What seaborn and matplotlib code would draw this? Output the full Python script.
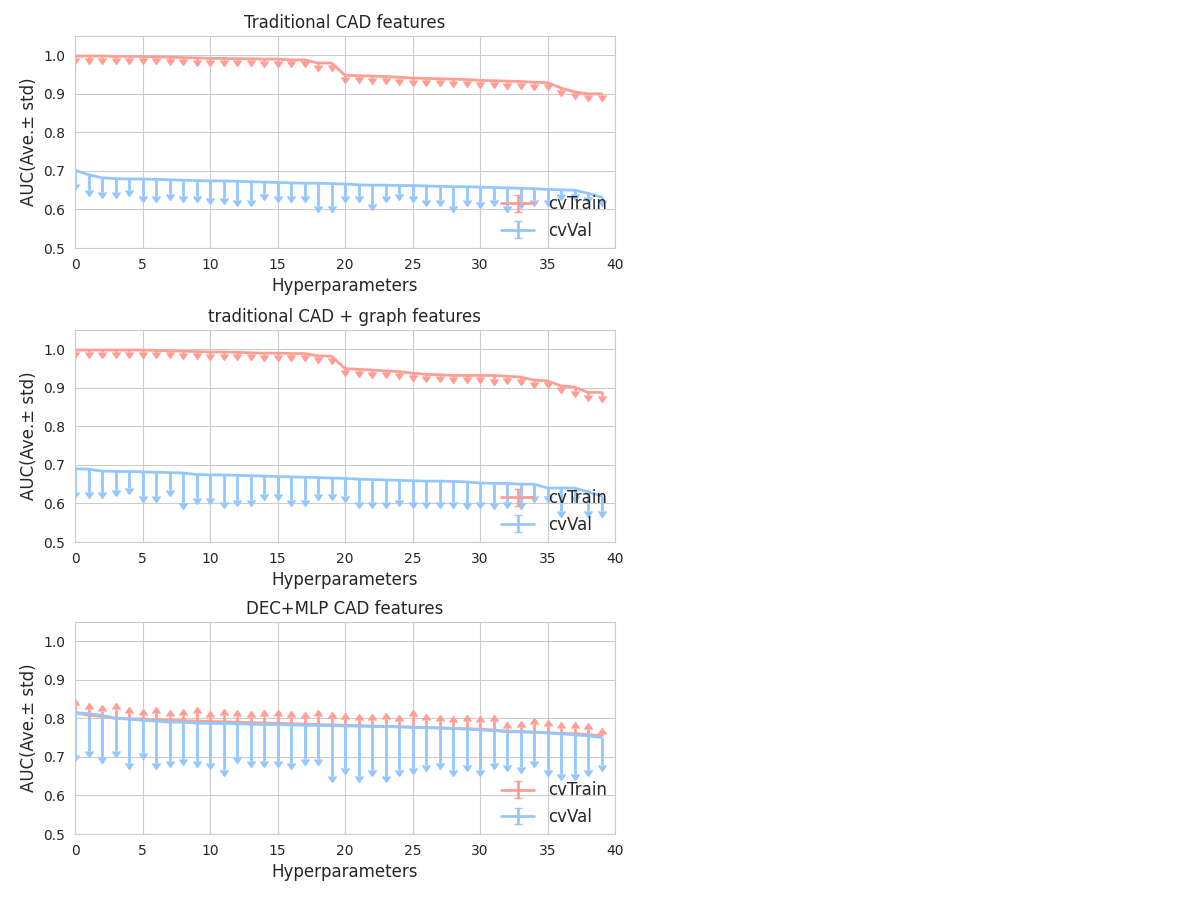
import numpy as np
import matplotlib
matplotlib.use("Agg")
import matplotlib.pyplot as plt
import seaborn as sns

sns.set_style("whitegrid")
plt.rcParams['font.family'] = ['DejaVu Sans']

x = list(range(40))
titles = ["Traditional CAD features", "traditional CAD + graph features", "DEC+MLP CAD features"]

train1 = [0.998,0.998,0.998,0.997,0.997,0.997,0.996,0.995,0.994,0.993,0.992,0.992,0.991,0.991,0.990,0.990,0.988,0.988,0.980,0.980,
          0.948,0.947,0.946,0.945,0.943,0.941,0.940,0.939,0.938,0.937,0.935,0.934,0.933,0.932,0.930,0.929,0.915,0.905,0.900,0.900]
train1_std = [0.004]*40
val1 = [0.702,0.690,0.682,0.680,0.679,0.679,0.678,0.677,0.676,0.675,0.674,0.674,0.673,0.672,0.671,0.670,0.669,0.668,0.668,0.667,
        0.666,0.664,0.663,0.663,0.662,0.662,0.661,0.660,0.659,0.659,0.658,0.657,0.656,0.655,0.654,0.652,0.651,0.650,0.642,0.632]
val1_lo = [0.665,0.650,0.645,0.645,0.650,0.635,0.635,0.640,0.635,0.635,0.630,0.630,0.625,0.625,0.640,0.635,0.635,0.635,0.610,0.610,
           0.635,0.635,0.615,0.635,0.640,0.635,0.625,0.625,0.610,0.625,0.620,0.625,0.610,0.620,0.625,0.625,0.640,0.640,0.632,0.625]

train2 = [0.998,0.998,0.998,0.998,0.998,0.998,0.997,0.996,0.995,0.994,0.993,0.993,0.992,0.991,0.990,0.990,0.989,0.989,0.983,0.982,
          0.950,0.948,0.946,0.944,0.942,0.938,0.935,0.934,0.932,0.932,0.932,0.932,0.930,0.928,0.920,0.918,0.905,0.902,0.888,0.888]
train2_std = [0.004,0.004,0.004,0.004,0.004,0.004,0.004,0.004,0.004,0.004,0.004,0.004,0.004,0.004,0.004,0.004,0.004,0.004,0.004,0.004,
              0.004,0.004,0.004,0.004,0.004,0.004,0.004,0.004,0.004,0.004,0.004,0.010,0.004,0.004,0.004,0.004,0.004,0.010,0.006,0.008]
val2 = [0.690,0.689,0.684,0.683,0.683,0.682,0.681,0.680,0.679,0.675,0.674,0.674,0.673,0.672,0.671,0.670,0.669,0.668,0.667,0.666,
        0.665,0.663,0.662,0.661,0.660,0.659,0.658,0.658,0.657,0.656,0.653,0.652,0.652,0.650,0.650,0.640,0.640,0.640,0.630,0.620]
val2_lo = [0.630,0.630,0.630,0.635,0.640,0.620,0.620,0.635,0.600,0.615,0.615,0.605,0.610,0.610,0.625,0.625,0.610,0.610,0.625,0.625,
           0.620,0.605,0.605,0.605,0.610,0.605,0.605,0.605,0.605,0.600,0.605,0.600,0.605,0.600,0.620,0.620,0.580,0.620,0.580,0.580]

train3 = [0.815,0.808,0.805,0.800,0.799,0.798,0.796,0.795,0.794,0.793,0.792,0.791,0.790,0.789,0.788,0.787,0.786,0.785,0.784,0.783,
          0.782,0.781,0.780,0.779,0.778,0.777,0.776,0.775,0.774,0.773,0.772,0.770,0.765,0.765,0.764,0.763,0.761,0.760,0.758,0.755]
train3_hi = [0.835,0.825,0.820,0.825,0.815,0.810,0.815,0.805,0.808,0.815,0.803,0.808,0.806,0.803,0.805,0.806,0.803,0.800,0.806,0.800,
             0.798,0.797,0.797,0.798,0.792,0.806,0.795,0.793,0.790,0.792,0.790,0.792,0.776,0.778,0.786,0.780,0.776,0.776,0.772,0.760]
val3 = [0.815,0.812,0.808,0.800,0.798,0.795,0.793,0.790,0.790,0.788,0.787,0.787,0.786,0.785,0.784,0.784,0.783,0.782,0.782,0.781,
        0.780,0.780,0.779,0.779,0.778,0.777,0.776,0.775,0.774,0.772,0.770,0.768,0.767,0.766,0.764,0.762,0.760,0.757,0.755,0.750]
val3_lo = [0.705,0.715,0.700,0.715,0.685,0.710,0.685,0.690,0.695,0.690,0.685,0.665,0.700,0.690,0.690,0.690,0.685,0.695,0.695,0.650,
           0.670,0.650,0.665,0.650,0.665,0.670,0.680,0.685,0.665,0.680,0.665,0.685,0.680,0.675,0.690,0.665,0.655,0.655,0.665,0.680]

red = "#ff9e94"
blue = "#94c7ff"

fig = plt.figure(figsize=(12, 8.97), dpi=100)
tops = [36, 330, 622]
panels = [
    (train1, [0]*40, train1_std, val1, [v-l for v, l in zip(val1, val1_lo)], True),
    (train2, [0]*40, train2_std, val2, [v-l for v, l in zip(val2, val2_lo)], True),
    (train3, [h-t for h, t in zip(train3_hi, train3)], None, val3, [v-l for v, l in zip(val3, val3_lo)], False),
]
for i, (tm, tup, tdn, vm, vdn, down_train) in enumerate(panels):
    top = tops[i]
    ax = fig.add_axes([75/1200, 1-(top+212)/897, 540/1200, 212/897])
    if down_train:
        ax.errorbar(x, tm, yerr=[tdn, [0]*40], color=red, lw=2, uplims=True, label="cvTrain")
    else:
        ax.errorbar(x, tm, yerr=[[0]*40, tup], color=red, lw=2, lolims=True, label="cvTrain")
    ax.errorbar(x, vm, yerr=[vdn, [0]*40], color=blue, lw=2, uplims=True, label="cvVal")
    ax.set_xlim(0, 40)
    ax.set_ylim(0.5, 1.05)
    ax.set_yticks([0.5, 0.6, 0.7, 0.8, 0.9, 1.0])
    ax.set_title(titles[i], fontsize=12)
    ax.set_xlabel("Hyperparameters", fontsize=12)
    ax.set_ylabel("AUC(Ave.± std)", fontsize=12)
    ax.tick_params(labelsize=10)
    for s in ax.spines.values():
        s.set_color("#cccccc")
    ax.legend(loc="lower right", frameon=False, fontsize=12, borderaxespad=0.1)

fig.savefig("out.png", dpi=100)
